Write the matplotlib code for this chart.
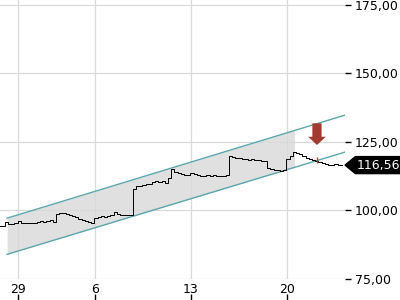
import matplotlib
matplotlib.use("Agg")
import matplotlib.pyplot as plt
from matplotlib.patches import Polygon

# --- data ---
# intraday closes, 6 bars per trading day, first bar a bit before the "29" tick
closes = [
    94.3, 94.3, 95.8, 95.1, 95.1, 95.3, 96.2, 95.4, 95.4, 95.4,
    95.6, 95.4, 95.8, 96.2, 95.8, 96.2, 96.5, 95.8, 98.7, 99.1,
    98.9, 98.7, 98.4, 98.0, 97.6, 96.9, 96.5, 96.2, 95.8, 95.4,
    97.3, 97.6, 98.0, 97.8, 98.0, 98.2, 99.4, 98.7, 98.4, 98.2,
    98.4, 98.5, 107.8, 108.9, 109.1, 109.3, 109.5, 109.6, 110.4, 110.9,
    110.4, 110.8, 110.0, 111.9, 115.1, 114.0, 113.7, 113.3, 113.1, 113.0,
    113.5, 113.3, 113.0, 112.6, 112.6, 112.8, 112.6, 113.0, 112.6, 112.4,
    112.6, 112.8, 119.9, 119.5, 119.2, 119.0, 118.8, 118.7, 118.4, 118.8,
    118.4, 118.3, 118.1, 118.1, 115.5, 115.1, 114.8, 114.8, 114.4, 114.8,
    118.8, 119.9, 121.3, 121.0, 120.6, 119.9, 119.2, 118.8, 118.4, 118.1,
    117.7, 117.5, 117.0, 116.6, 116.6, 116.8, 116.6, 116.56,
]
bars_per_day = 6
first_bar = -0.94  # in trading days, relative to the "29" tick

tick_days = [0, 4, 9, 14]
tick_labels = ["29", "6", "13", "20"]
y_ticks = [75, 100, 125, 150, 175]

# trend channel (start day, end day, prices)
chan_x = [-0.57, 17.03]
chan_upper = [97.2, 134.8]
chan_lower = [84.0, 121.3]
shade_end = 14.4

signal_day = 15.57
arrow_top, arrow_tip = 131.8, 123.9
last_price = 116.56

xs = [first_bar + i / bars_per_day for i in range(len(closes))]

fig = plt.figure(figsize=(4, 3), dpi=100)
ax = fig.add_axes([0.0, 0.07, 0.8625, 0.93])
ax.set_xlim(-0.94, 17.03)
ax.set_ylim(75, 176.8)

# shaded channel part
def chan(line, d):
    return line[0] + (line[1] - line[0]) * (d - chan_x[0]) / (chan_x[1] - chan_x[0])

ax.fill_between([chan_x[0], shade_end],
                [chan(chan_lower, chan_x[0]), chan(chan_lower, shade_end)],
                [chan(chan_upper, chan_x[0]), chan(chan_upper, shade_end)],
                color="#e0e0e0", lw=0, zorder=0.3)
ax.plot(chan_x, chan_upper, color="#5ba6ae", lw=1, zorder=2)
ax.plot(chan_x, chan_lower, color="#5ba6ae", lw=1, zorder=2)

# price series
ax.plot(xs, closes, color="black", lw=0.7, drawstyle="steps-mid", zorder=3)
ax.vlines(signal_day, 117.2, 119.4, color="#c0392b", lw=1, zorder=4)

# sell arrow
ax.arrow(signal_day, arrow_top, 0, arrow_tip - arrow_top, width=0.48,
         head_width=0.92, head_length=3.0, length_includes_head=True,
         color="#a33a30", lw=0, zorder=5)

# grid / axes
ax.set_axisbelow(True)
ax.grid(True, color="#d9d9d9", lw=0.9)
for s in ax.spines.values():
    s.set_visible(False)
ax.set_xticks(tick_days)
ax.set_xticklabels(tick_labels)
ax.tick_params(axis="x", length=0, pad=3, labelsize=9)
ax.set_yticks(y_ticks)
ax.set_yticklabels([f"{v:.2f}".replace(".", ",") for v in y_ticks])
ax.yaxis.tick_right()
ax.tick_params(axis="y", length=4, width=1, pad=3, labelsize=9, color="black")

# little tick marks under the x labels
sec = ax.secondary_xaxis(-0.054)
sec.set_xticks(tick_days)
sec.set_xticklabels([])
sec.tick_params(length=4.5, width=1)
sec.spines["bottom"].set_visible(False)

# last price tag
trans = ax.get_yaxis_transform()
h = 3.1
tag = Polygon([(1.0, last_price), (1.03, last_price + h), (1.2, last_price + h),
               (1.2, last_price - h), (1.03, last_price - h)],
              closed=True, transform=trans, color="black", clip_on=False, zorder=6)
ax.add_patch(tag)
ax.text(1.035, last_price, f"{last_price:.2f}".replace(".", ","), transform=trans,
        color="white", fontsize=9, ha="left", va="center", zorder=7)

fig.savefig("out.png", dpi=100)
